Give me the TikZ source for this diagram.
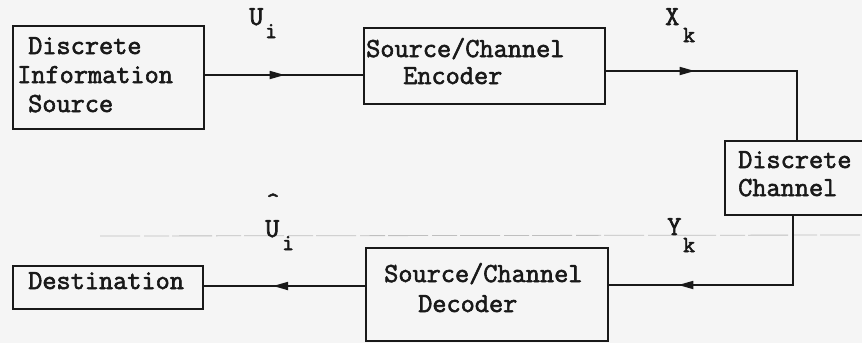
\documentclass[tikz,border=0pt]{standalone}
\usepackage{fontspec}
\newfontfamily\typew{Latin Modern Mono}[FakeBold=2.2]
\usetikzlibrary{decorations.markings,arrows.meta}
\definecolor{paper}{RGB}{245,245,245}
\definecolor{ink}{RGB}{25,25,25}
\tikzset{
  box/.style={draw=ink, line width=1.7pt, inner sep=0pt, anchor=north west},
  txt/.style={font=\typew\fontsize{27.5}{32}\selectfont, text=ink, inner sep=0pt, anchor=base west},
  subtxt/.style={font=\typew\fontsize{23}{26}\selectfont, text=ink, inner sep=0pt, anchor=base west},
  hattxt/.style={font=\typew\fontsize{24}{26}\selectfont, text=ink, inner sep=0pt, anchor=center},
  wire/.style={draw=ink, line width=1.7pt},
  midarrow/.style={postaction={decorate}, decoration={markings, mark=at position #1 with {\arrow{Triangle[length=15pt,width=8pt]}}}},
  fold/.style={draw=gray!50, line width=0.8pt, dash pattern=on 40pt off 4pt on 25pt off 3pt}
}
\begin{document}
\begin{tikzpicture}[x=1pt,y=-1pt]
\path[fill=paper] (0,0) rectangle (862,343);
\useasboundingbox (0,0) rectangle (862,343);

% faint fold line across the sheet
\coordinate (f1) at (100,236);
\coordinate (f2) at (862,235);
\draw[fold] (f1) -- (f2);

% boxes
\node[box, minimum width=191pt, minimum height=103pt] (src) at (12,25) {};
\node[box, minimum width=241pt, minimum height=76pt] (enc) at (363,27) {};
\node[box, minimum width=150pt, minimum height=74pt] (chan) at (724,140) {};
\node[box, minimum width=242pt, minimum height=93pt] (dec) at (365,247) {};
\node[box, minimum width=190pt, minimum height=43pt] (dst) at (12,265) {};

% box texts
\node[txt] (src1) at (28,54) {Discrete};
\node[txt] (src2) at (17,83) {Information};
\node[txt] (src3) at (28,112) {Source};
\node[txt] (enc1) at (366,57) {Source/Channel};
\node[txt] (enc2) at (403,84) {Encoder};
\node[txt] (chan1) at (738,168) {Discrete};
\node[txt] (chan2) at (738,196) {Channel};
\node[txt] (dec1) at (384,282) {Source/Channel};
\node[txt] (dec2) at (418,312) {Decoder};
\node[txt] (dst1) at (28,289) {Destination};

% connectors
\coordinate (y1) at (0,75);
\draw[wire, midarrow=80pt] (src.east |- y1) -- (enc.west |- y1);
\coordinate (c1) at (797,71);
\draw[wire, midarrow=89pt] (enc.east |- c1) -- (c1) -- (c1 |- chan.north);
\coordinate (c2) at (793,285);
\draw[wire, midarrow=184pt] (c2 |- chan.south) -- (c2) -- (dec.east |- c2);
\coordinate (y4) at (0,286);
\draw[wire, midarrow=92pt] (dec.west |- y4) -- (dst.east |- y4);

% signal labels
\node[txt] (lu) at (249,25) {U};
\node[subtxt] (lui) at (265,38) {i};
\node[txt] (lx) at (665,25) {X};
\node[subtxt] (lxk) at (683,42) {k};
\node[txt] (lhu) at (265,237) {U};
\node[subtxt] (lhui) at (282,250) {i};
\node[hattxt] (lhat) at (273,201) {\textasciicircum};
\node[txt] (ly) at (667,235) {Y};
\node[subtxt] (lyk) at (683,252) {k};
\end{tikzpicture}
\end{document}
